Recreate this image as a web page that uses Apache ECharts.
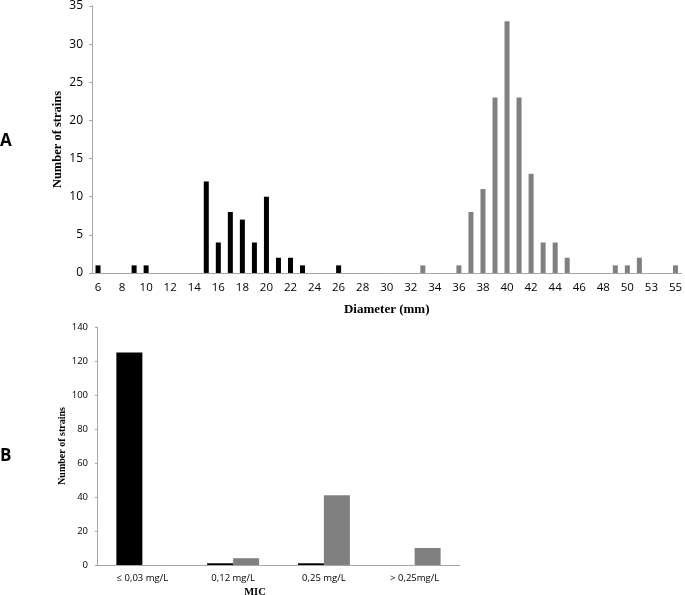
<!DOCTYPE html>
<html>
<head>
<meta charset="utf-8">
<script src="https://cdn.jsdelivr.net/npm/echarts@6/dist/echarts.min.js"></script>
<style>html,body{margin:0;padding:0;background:#fff;}#c{width:685px;height:595px;}</style>
</head>
<body>
<div id="c"></div>
<script>
// Panel A: diameter distribution
const diameterCategories = ['6','7','8','9','10','11','12','13','14','15','16','17','18','19','20','21','22','23','24','25','26','27','28','29','30','31','32','33','34','35','36','37','38','39','40','41','42','43','44','45','46','47','48','49','50','51','53','54','55'];
const diameterBlack = [1,0,0,1,1,0,0,0,0,12,4,8,7,4,10,2,2,1,0,0,1,0,0,0,0,0,0,0,0,0,0,0,0,0,0,0,0,0,0,0,0,0,0,0,0,0,0,0,0];
const diameterGray  = [0,0,0,0,0,0,0,0,0,0,0,0,0,0,0,0,0,0,0,0,0,0,0,0,0,0,0,1,0,0,1,8,11,23,33,23,13,4,4,2,0,0,0,1,1,2,0,0,1];
// Panel B: MIC distribution
const micCategories = ['≤ 0,03 mg/L','0,12 mg/L','0,25 mg/L','> 0,25mg/L'];
const micBlack = [125,1,1,0];
const micGray = [0,4,41,10];

const axisGray = '#a6a6a6';
const labelFont = 'Open Sans';
const titleFont = 'Liberation Serif';

const chart = echarts.init(document.getElementById('c'), null, {renderer:'canvas'});
chart.setOption({
  animation:false,
  backgroundColor:'#fff',
  grid:[
    {left:92, top:3, width:593, height:270},
    {left:97, top:327, width:363, height:238}
  ],
  xAxis:[
    {gridIndex:0, type:'category', data:diameterCategories, boundaryGap:true,
     axisLine:{lineStyle:{color:axisGray}},
     axisTick:{interval:0, length:4, lineStyle:{color:axisGray}},
     axisLabel:{interval:1, color:'#000', fontFamily:labelFont, fontSize:11.5, margin:9},
     name:'Diameter (mm)', nameLocation:'middle', nameGap:30, nameMoveOverlap:false,
     nameTextStyle:{fontFamily:titleFont, fontWeight:'bold', fontSize:13, color:'#000'}},
    {gridIndex:1, type:'category', data:micCategories, boundaryGap:true,
     axisLine:{lineStyle:{color:axisGray}},
     axisTick:{interval:0, length:3, lineStyle:{color:axisGray}},
     axisLabel:{interval:0, color:'#000', fontFamily:labelFont, fontSize:9.5, margin:8}}
  ],
  yAxis:[
    {gridIndex:0, type:'value', min:0, max:35, interval:5,
     axisLine:{show:true, lineStyle:{color:axisGray}},
     axisTick:{show:true, length:3, lineStyle:{color:axisGray}},
     splitLine:{show:false},
     axisLabel:{color:'#000', fontFamily:labelFont, fontSize:12, margin:9},
     name:'Number of strains', nameLocation:'middle', nameGap:28, nameRotate:90, nameMoveOverlap:false,
     nameTextStyle:{fontFamily:titleFont, fontWeight:'bold', fontSize:12.5, color:'#000'}},
    {gridIndex:1, type:'value', min:0, max:140, interval:20,
     axisLine:{show:true, lineStyle:{color:axisGray}},
     axisTick:{show:true, length:2, lineStyle:{color:axisGray}},
     splitLine:{show:false},
     axisLabel:{color:'#000', fontFamily:labelFont, fontSize:9.5, margin:9},
     name:'Number of strains', nameLocation:'middle', nameGap:30, nameRotate:90, nameMoveOverlap:false,
     nameTextStyle:{fontFamily:titleFont, fontWeight:'bold', fontSize:10, color:'#000'}}
  ],
  series:[
    {type:'bar', xAxisIndex:0, yAxisIndex:0, stack:'a', data:diameterBlack, barWidth:5,
     itemStyle:{color:'#000'}},
    {type:'bar', xAxisIndex:0, yAxisIndex:0, stack:'a', data:diameterGray, barWidth:5,
     itemStyle:{color:'#808080'}},
    {type:'bar', xAxisIndex:1, yAxisIndex:1, data:micBlack, barWidth:26, barGap:'0%',
     itemStyle:{color:'#000'}},
    {type:'bar', xAxisIndex:1, yAxisIndex:1, data:micGray, barWidth:26, barGap:'0%',
     itemStyle:{color:'#808080'}}
  ],
  graphic:[
    {type:'text', left:0, top:133, style:{text:'A', font:'bold 17px "Open Sans"', fill:'#000'}},
    {type:'text', left:0, top:448, style:{text:'B', font:'bold 17px "Open Sans"', fill:'#000'}},
    {type:'text', x:255, y:592, style:{text:'MIC', font:'bold 10.5px "Liberation Serif"', fill:'#000', align:'center', verticalAlign:'middle'}}
  ]
});
</script>
</body>
</html>
